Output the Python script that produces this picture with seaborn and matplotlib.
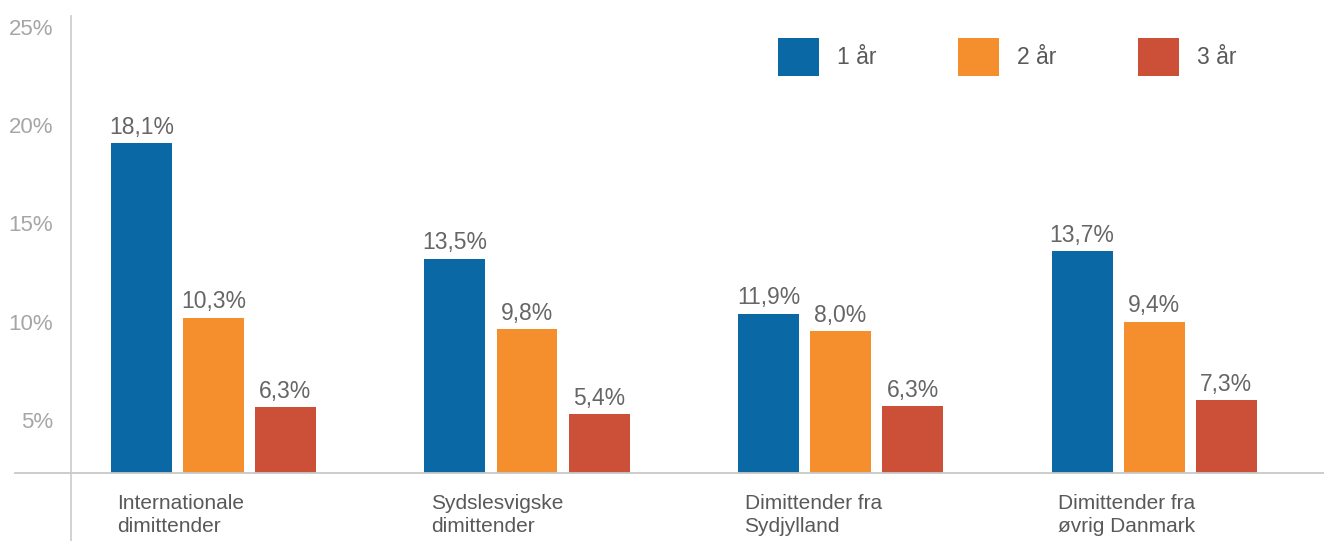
import matplotlib
matplotlib.use("Agg")
import matplotlib.pyplot as plt
import matplotlib.transforms as mtransforms
import seaborn as sns
import pandas as pd

# ---- data ----
categories = ["Internationale\ndimittender", "Sydslesvigske\ndimittender",
              "Dimittender fra\nSydjylland", "Dimittender fra\nøvrig Danmark"]
series = ["1 år", "2 år", "3 år"]
# bar heights as drawn against the y axis of the reference
bars_1ar = [19.1, 13.2, 10.4, 13.6]
bars_2ar = [10.2, 9.6, 9.5, 10.0]
bars_3ar = [5.65, 5.3, 5.7, 6.0]
# value labels printed above the bars
labels_1ar = [18.1, 13.5, 11.9, 13.7]
labels_2ar = [10.3, 9.8, 8.0, 9.4]
labels_3ar = [6.3, 5.4, 6.3, 7.3]
yticks = [5, 10, 15, 20, 25]

colors = ["#0a68a4", "#f58f2e", "#cc5038"]

rows = []
for s, vals in zip(series, [bars_1ar, bars_2ar, bars_3ar]):
    for c, v in zip(categories, vals):
        rows.append({"kategori": c, "serie": s, "andel": v})
df = pd.DataFrame(rows)

sns.set_theme(style="white")
plt.rcParams["font.family"] = ["Liberation Sans", "DejaVu Sans"]

W, H = 1324, 541
fig = plt.figure(figsize=(W / 100, H / 100), dpi=100)
ax = fig.add_axes([15 / W, (H - 473) / H, (W - 15) / W, (473 - 16) / H])

sns.barplot(data=df, x="kategori", y="andel", hue="serie", order=categories,
            hue_order=series, palette=colors, width=0.689, gap=0.153,
            linewidth=0, saturation=1, ax=ax, errorbar=None)

for cont, labs in zip(ax.containers, [labels_1ar, labels_2ar, labels_3ar]):
    ax.bar_label(cont, labels=[f"{v:.1f}%".replace(".", ",") for v in labs],
                 padding=3, fontsize=16.5, color="#666666")

ax.set_ylim(2.29, 25.55)
ax.set_xlim(-0.633, 3.542)
ax.set_xlabel("")
ax.set_ylabel("")

# axes styling
for side in ["top", "right"]:
    ax.spines[side].set_visible(False)
ax.spines["bottom"].set_color("#c8c8c8")
ax.spines["bottom"].set_linewidth(1.3)
ax.spines["left"].set_position(("data", -0.4545))
ax.spines["left"].set_color("#d0d0d0")
ax.spines["left"].set_linewidth(1.3)
ax.spines["left"].set_bounds(-1.17, 25.55)

ax.set_yticks(yticks)
ax.set_yticklabels([f"{t}%" for t in yticks])
ax.tick_params(axis="y", length=0, pad=13, labelsize=16, labelcolor="#a6a6a6")
ax.tick_params(axis="x", length=0, pad=15, labelsize=15, labelcolor="#595959")
offset = mtransforms.ScaledTranslation(-0.96, 0, fig.dpi_scale_trans)
for lab in ax.get_xticklabels():
    lab.set_horizontalalignment("left")
    lab.set_multialignment("left")
    lab.set_linespacing(1.25)
    lab.set_transform(lab.get_transform() + offset)

handles, labs = ax.get_legend_handles_labels()
ax.legend(handles, labs, ncol=3, frameon=False, loc="upper left",
          bbox_to_anchor=(778 / W, 1 - 38 / H), bbox_transform=fig.transFigure,
          borderpad=0, borderaxespad=0, fontsize=16.5, labelcolor="#595959",
          handlelength=1.79, handleheight=2.15, handletextpad=0.79,
          columnspacing=3.56)

fig.savefig("out.png", dpi=100)
